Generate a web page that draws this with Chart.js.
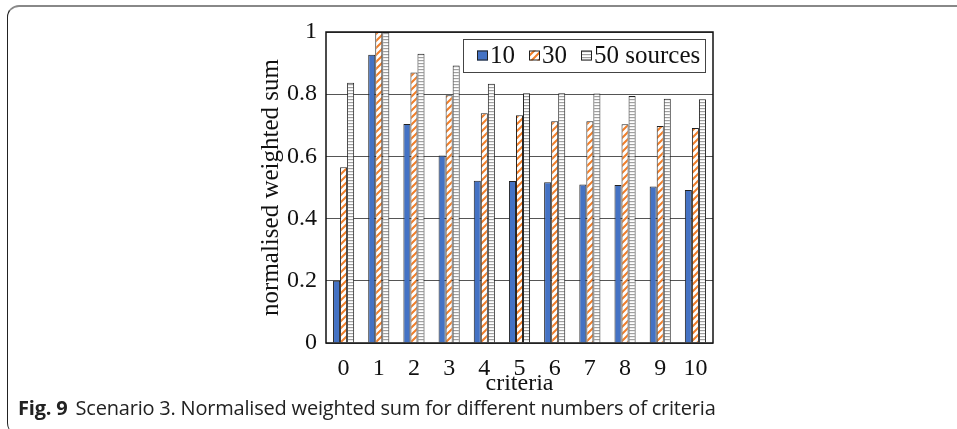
<!DOCTYPE html>
<html>
<head>
<meta charset="utf-8">
<script src="https://cdn.jsdelivr.net/npm/chart.js@4/dist/chart.umd.min.js"></script>
<style>
  html, body { margin: 0; padding: 0; background: #fff; }
  body { width: 957px; height: 429px; position: relative; overflow: hidden; }
  .frame {
    position: absolute; left: 7px; top: 5px; width: 1000px; height: 428px;
    border-left: 1.5px solid #222; border-top: 2px solid #888;
    border-radius: 12px 0 0 12px;
  }
  #wrap { position: absolute; left: 256px; top: 0; width: 464px; height: 395px; }
  .caption {
    position: absolute; left: 18px; top: 394px;
    font-family: "Open Sans", sans-serif; font-size: 20px; color: #222;
    letter-spacing: -0.2px;
  }
  .caption b { font-weight: 700; margin-right: 8px; }
</style>
</head>
<body>
<div class="frame"></div>
<div id="wrap"><canvas id="chart"></canvas></div>
<div class="caption"><b>Fig. 9</b>Scenario 3. Normalised weighted sum for different numbers of criteria</div>
<script>
const categories = ['0', '1', '2', '3', '4', '5', '6', '7', '8', '9', '10'];
const seriesNames = ['10', '30', '50 sources'];
const values10 = [0.200, 0.927, 0.704, 0.603, 0.522, 0.521, 0.517, 0.510, 0.508, 0.503, 0.492];
const values30 = [0.565, 1.000, 0.870, 0.797, 0.739, 0.732, 0.713, 0.713, 0.703, 0.698, 0.691];
const values50 = [0.837, 1.000, 0.930, 0.892, 0.834, 0.803, 0.803, 0.802, 0.794, 0.785, 0.784];
const yTicks = [0, 0.2, 0.4, 0.6, 0.8, 1];

const serif = '"Liberation Serif", "Times New Roman", serif';

function stripes(kind) {
  const c = document.createElement('canvas');
  const ctx = c.getContext('2d');
  if (kind === 'diag') {
    c.width = 7; c.height = 7;
    ctx.fillStyle = '#fff';
    ctx.fillRect(0, 0, 7, 7);
    ctx.strokeStyle = '#f07f2a';
    ctx.lineWidth = 2;
    ctx.beginPath();
    for (let k = -7; k <= 14; k += 7) {
      ctx.moveTo(k - 1, 8);
      ctx.lineTo(k + 8, -1);
    }
    ctx.stroke();
  } else {
    c.width = 4; c.height = 3;
    ctx.fillStyle = '#fff';
    ctx.fillRect(0, 0, 4, 3);
    ctx.fillStyle = '#a0a0a0';
    ctx.fillRect(0, 0, 4, 1.2);
  }
  return ctx.createPattern(c, 'repeat');
}

const fills = ['#4472c4', stripes('diag'), stripes('horiz')];

// legend box inside the plot, top right, plus the black plot frame
const boxLegend = {
  id: 'boxLegend',
  afterDatasetsDraw(chart) {
    const { ctx, chartArea } = chart;
    const x0 = chartArea.right - 250, y0 = chartArea.top + 7, w = 242, h = 33;
    ctx.save();
    ctx.fillStyle = '#fff';
    ctx.fillRect(x0, y0, w, h);
    ctx.strokeStyle = '#444';
    ctx.lineWidth = 1;
    ctx.strokeRect(x0 + 0.5, y0 + 0.5, w, h);
    ctx.font = '25px ' + serif;
    ctx.textBaseline = 'middle';
    let x = x0 + 14;
    const cy = y0 + h / 2;
    seriesNames.forEach((name, i) => {
      ctx.fillStyle = fills[i];
      ctx.fillRect(x, cy - 5, 11, 10);
      ctx.strokeStyle = '#222';
      ctx.strokeRect(x + 0.5, cy - 5 + 0.5, 10, 9);
      ctx.fillStyle = '#111';
      ctx.fillText(name, x + 13, cy + 1);
      x += 13 + ctx.measureText(name).width + 14;
    });
    ctx.restore();
  },
  afterDraw(chart) {
    const { ctx, chartArea } = chart;
    ctx.save();
    ctx.strokeStyle = '#111';
    ctx.lineWidth = 1.5;
    ctx.strokeRect(chartArea.left, chartArea.top, chartArea.right - chartArea.left, chartArea.bottom - chartArea.top);
    ctx.restore();
  }
};

new Chart(document.getElementById('chart'), {
  type: 'bar',
  data: {
    labels: categories,
    datasets: [values10, values30, values50].map((vals, i) => ({
      label: seriesNames[i],
      data: vals,
      backgroundColor: fills[i],
      borderColor: '#222',
      borderWidth: 1
    }))
  },
  options: {
    responsive: true,
    maintainAspectRatio: false,
    animation: false,
    layout: { padding: { top: 32, right: 7, bottom: 0, left: 0 } },
    datasets: { bar: { categoryPercentage: 0.6, barPercentage: 1 } },
    plugins: { legend: { display: false }, tooltip: { enabled: false } },
    scales: {
      x: {
        grid: { display: false },
        border: { display: false },
        ticks: { color: '#111', font: { family: serif, size: 24 }, padding: 3, maxRotation: 0 },
        title: { display: true, text: 'criteria', color: '#111', font: { family: serif, size: 24 }, padding: { top: 0, bottom: -3 } },
        afterFit(scale) { scale.height = 52; }
      },
      y: {
        min: 0, max: 1,
        afterBuildTicks(scale) { scale.ticks = yTicks.map(v => ({ value: v })); },
        grid: { color: '#555', lineWidth: 1, drawTicks: false },
        border: { display: false },
        ticks: {
          color: '#111', font: { family: serif, size: 24 }, padding: 9,
          callback: v => String(+v.toFixed(1))
        },
        title: { display: true, text: 'normalised weighted sum', color: '#111', font: { family: serif, size: 25 }, padding: 0 },
        afterFit(scale) { scale.width = 70; }
      }
    }
  },
  plugins: [boxLegend]
});
</script>
</body>
</html>
